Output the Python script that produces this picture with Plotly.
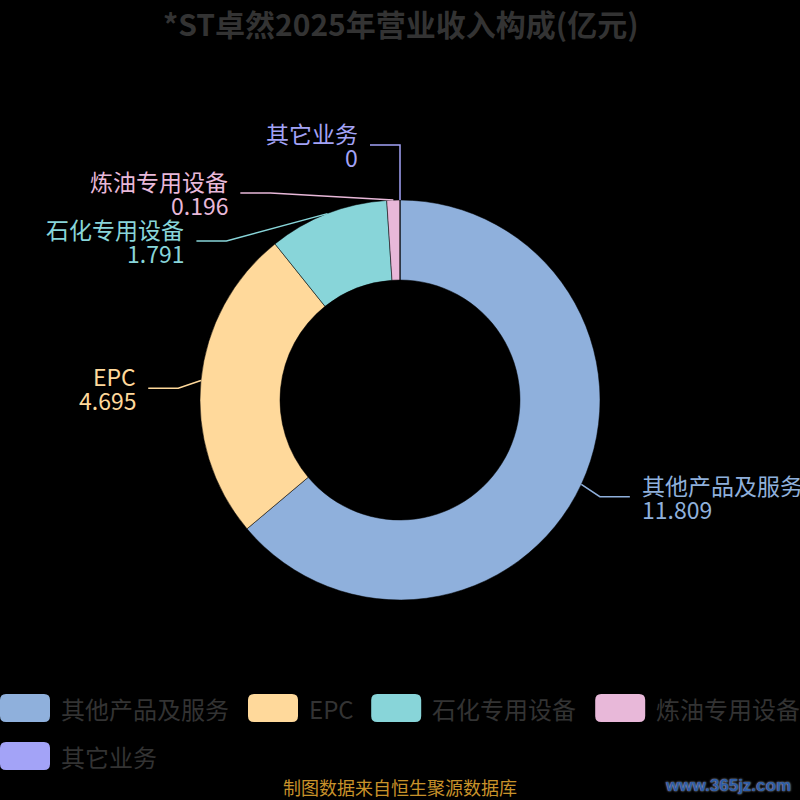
import math
import plotly.graph_objects as go

# data
labels = ["其他产品及服务", "EPC", "石化专用设备", "炼油专用设备", "其它业务"]
values = [11.809, 4.695, 1.791, 0.196, 0]
value_text = ["11.809", "4.695", "1.791", "0.196", "0"]
colors = ["#8fb0dc", "#ffd99b", "#88d5d9", "#e8b8d9", "#a3a3f7"]

title_text = "*ST卓然2025年营业收入构成(亿元)"
source_text = "制图数据来自恒生聚源数据库"
watermark_text = "www.365jz.com"

W, H = 800, 800
CX, CY = 400, 400
R_OUT = 200
R_ELBOW = 222
LEN2 = 30
LABEL_GAP = 48
# small downward nudge of the label rows (echarts places them a bit lower)
SIDE_DY = {1: 3, -1: 10}
FONT = "Noto Sans CJK SC, Noto Sans, sans-serif"


def px(x, y):
    return x / W, 1 - y / H


def text_width(s, size):
    return sum(size if ord(c) > 0x2E80 else 0.6 * size for c in s)


def rounded_rect(x0, y0, x1, y1, r):
    p = [px(x0 + r, y0), px(x1 - r, y0), px(x1, y0 + r), px(x1, y1 - r),
         px(x1 - r, y1), px(x0 + r, y1), px(x0, y1 - r), px(x0, y0 + r)]
    c = [px(x1, y0), px(x1, y1), px(x0, y1), px(x0, y0)]
    f = lambda q: f"{q[0]:.5f},{q[1]:.5f}"
    return (f"M{f(p[0])} L{f(p[1])} Q{f(c[0])} {f(p[2])} L{f(p[3])} "
            f"Q{f(c[1])} {f(p[4])} L{f(p[5])} Q{f(c[2])} {f(p[6])} "
            f"L{f(p[7])} Q{f(c[3])} {f(p[0])} Z")


fig = go.Figure()
fig.add_trace(go.Pie(
    labels=labels,
    values=values,
    hole=0.6,
    sort=False,
    direction="clockwise",
    rotation=0,
    marker=dict(colors=colors, line=dict(color="#000000", width=0.5)),
    textinfo="none",
    showlegend=False,
    domain=dict(x=[0.25, 0.75], y=[0.25, 0.75]),
))

# label layout, echarts style: outside labels with elbow lines
total = sum(values)
items = []
acc = 0
for i, v in enumerate(values):
    mid = (acc + v / 2) / total * 2 * math.pi
    acc += v
    side = 1 if mid < math.pi else -1
    items.append(dict(i=i, theta=mid, side=side,
                      ay=CY - R_ELBOW * math.cos(mid) + SIDE_DY[side]))

shapes = []
annotations = []
for side in (1, -1):
    group = sorted([it for it in items if it["side"] == side], key=lambda it: it["ay"])
    # spread overlapping labels around their mean position
    clusters = [[it] for it in group]
    changed = True
    while changed:
        changed = False
        for c in clusters:
            mean = sum(it["ay"] for it in c) / len(c)
            start = mean - LABEL_GAP * (len(c) - 1) / 2
            for k, it in enumerate(c):
                it["y"] = start + k * LABEL_GAP
        for k in range(len(clusters) - 1):
            if clusters[k][-1]["y"] + LABEL_GAP > clusters[k + 1][0]["y"]:
                clusters[k] = clusters[k] + clusters.pop(k + 1)
                changed = True
                break
    rb = max([abs(it["y"] - CY) for it in group] + [R_ELBOW])
    for it in group:
        dy = it["y"] - CY
        dx = math.sqrt(max(0.0, 1 - dy * dy / (rb * rb))) * R_ELBOW
        ex = CX + side * dx
        ey = it["y"]
        ax = CX + R_OUT * math.sin(it["theta"])
        ay = CY - R_OUT * math.cos(it["theta"])
        endx = ex + side * LEN2
        x0, y0 = px(ax, ay)
        x1, y1 = px(ex, ey)
        x2, y2 = px(endx, ey)
        shapes.append(dict(type="path", xref="paper", yref="paper",
                           path=f"M{x0},{y0} L{x1},{y1} L{x2},{y2}",
                           line=dict(color=colors[it["i"]], width=1.5)))
        tx = endx + side * 10
        for k, txt in enumerate([labels[it["i"]], value_text[it["i"]]]):
            qx, qy = px(tx, ey - 12 + 24 * k)
            annotations.append(dict(
                x=qx, y=qy, xref="paper", yref="paper", text=txt,
                showarrow=False, xanchor="left" if side == 1 else "right",
                yanchor="middle",
                font=dict(family=FONT, size=23, color=colors[it["i"]])))

# legend, drawn by hand to get the large rounded swatches
LEG_SIZE = 24
x, row = 0, 0
for name, col in zip(labels, colors):
    w = 50 + 10 + text_width(name, LEG_SIZE)
    if x > 0 and x + w > W + 2:
        x, row = 0, row + 1
    yc = 708 + row * 48
    shapes.append(dict(type="path", xref="paper", yref="paper",
                       path=rounded_rect(x, yc - 14, x + 50, yc + 14, 6),
                       fillcolor=col, line=dict(width=0)))
    qx, qy = px(x + 59, yc)
    annotations.append(dict(x=qx, y=qy, xref="paper", yref="paper", text=name,
                            showarrow=False, xanchor="left", yanchor="middle",
                            font=dict(family=FONT, size=LEG_SIZE, color="#333333")))
    x += w + 20

annotations.append(dict(x=0.5, y=1 - 23 / H, xref="paper", yref="paper",
                        text=f"<b>{title_text}</b>", showarrow=False,
                        xanchor="center", yanchor="middle",
                        font=dict(family=FONT, size=30, color="#333333")))
annotations.append(dict(x=0.5, y=1 - 787 / H, xref="paper", yref="paper",
                        text=source_text, showarrow=False,
                        xanchor="center", yanchor="middle",
                        font=dict(family=FONT, size=18, color="#c8922a")))
annotations.append(dict(x=793 / W, y=1 - 785 / H, xref="paper", yref="paper",
                        text=f"<b>{watermark_text}</b>", showarrow=False,
                        xanchor="right", yanchor="middle",
                        font=dict(family="Liberation Sans Narrow, Liberation Sans, sans-serif",
                                  size=17, color="#2d5ca6",
                                  shadow="0px 0px 2px #d0d8e8")))

fig.update_layout(
    width=W, height=H,
    margin=dict(l=0, r=0, t=0, b=0),
    paper_bgcolor="#000000",
    plot_bgcolor="#000000",
    shapes=shapes,
    annotations=annotations,
)

# drop the page's default body margin so the 800x800 figure fills the window
fig.write_html("out.html",
               config={"displayModeBar": False},
               post_script="document.body.style.margin='0';"
                           "document.body.style.background='#000';")
